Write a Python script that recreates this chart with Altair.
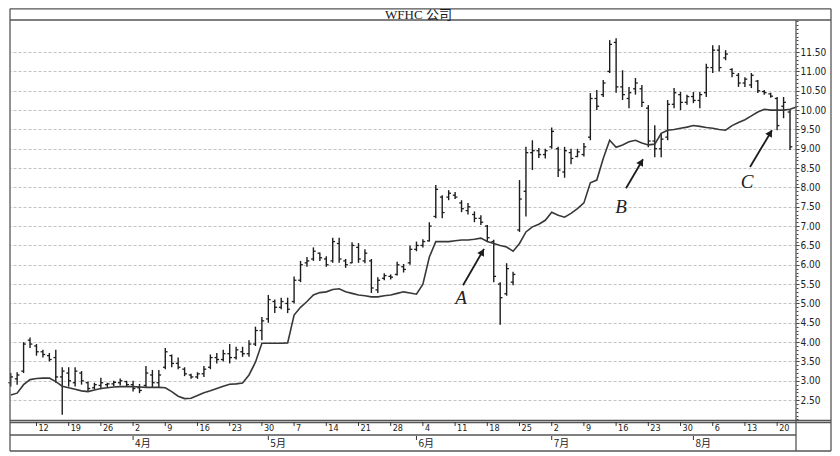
import altair as alt
import pandas as pd

# ---------------- data (trading-day slots; slot 0 = Monday 12 March) ----------------
slots = list(range(-4, 118))
highs = [3.20, 3.22, 4.00, 4.12,
         3.95, 3.80, 3.72, 3.80, 3.35,
         3.35, 3.35, 3.25, 2.98, 2.95,
         3.08, 2.95, 3.00, 3.06, 3.00,
         3.00, 2.92, 3.38, 3.28, 3.28,
         3.85, 3.68, 3.60, 3.35, 3.18,
         3.22, 3.38, 3.68, 3.72, 3.80,
         3.95, 3.88, 3.88, 4.05, 4.40,
         4.65, 5.22, 5.10, 5.15, 5.15,
         5.70, 6.10, 6.20, 6.45, 6.32,
         6.22, 6.70, 6.70, 6.15, 6.58,
         6.56, 6.40, 6.15, 5.68, 5.78,
         5.75, 6.08, 6.02, 6.50, 6.60,
         6.66, 7.10, 8.06, 7.80, 7.93,
         7.88, 7.67, 7.60, 7.38, 7.28,
         7.03, 6.65, 5.55, 6.04, 5.82,
         8.19, 9.05, 9.22, 9.02, 9.00,
         9.55, 9.05, 9.05, 9.00, 9.00,
         9.15, 10.44, 10.52, 10.78, 11.81,
         11.86, 11.03, 10.60, 10.83, 10.65,
         10.13, 9.61, 9.40, 10.26, 10.57,
         10.47, 10.40, 10.47, 10.47, 11.20,
         11.68, 11.68, 11.55, 11.08, 10.96,
         10.85, 10.96, 10.78, 10.52, 10.45,
         10.34, 10.34, 10.00]
lows = [2.85, 2.90, 3.20, 3.85,
        3.65, 3.60, 3.50, 2.95, 2.12,
        2.85, 2.85, 2.90, 2.72, 2.78,
        2.78, 2.84, 2.86, 2.88, 2.86,
        2.72, 2.68, 2.84, 2.84, 2.84,
        3.30, 3.35, 3.30, 3.12, 3.05,
        3.05, 3.10, 3.30, 3.45, 3.50,
        3.45, 3.55, 3.62, 3.62, 3.90,
        4.05, 4.50, 4.75, 4.85, 4.75,
        5.00, 5.55, 5.95, 6.10, 6.10,
        5.95, 6.05, 6.05, 5.92, 6.04,
        6.05, 6.04, 5.27, 5.27, 5.60,
        5.62, 5.72, 5.80, 6.00, 6.35,
        6.45, 6.60, 7.20, 7.20, 7.67,
        7.70, 7.36, 7.30, 7.10, 7.03,
        6.59, 5.55, 4.45, 5.20, 5.47,
        6.85, 7.25, 8.45, 8.76, 8.75,
        9.00, 8.27, 8.25, 8.60, 8.78,
        8.80, 9.22, 10.00, 10.34, 10.96,
        10.45, 10.26, 10.05, 10.40, 10.08,
        9.04, 8.78, 8.78, 9.22, 10.05,
        10.00, 10.14, 10.18, 10.05, 10.34,
        10.96, 11.00, 11.29, 10.85, 10.60,
        10.60, 10.57, 10.44, 10.40, 10.32,
        9.48, 9.79, 8.97]
opens = [2.95, 3.05, 3.25, 4.05,
         3.90, 3.75, 3.65, 3.60, 3.10,
         3.20, 2.95, 3.20, 2.95, 2.82,
         2.88, 2.90, 2.92, 2.95, 2.98,
         2.90, 2.82, 2.88, 3.15, 2.95,
         3.35, 3.65, 3.45, 3.30, 3.15,
         3.10, 3.18, 3.35, 3.60, 3.55,
         3.70, 3.60, 3.75, 3.70, 3.95,
         4.30, 4.60, 5.05, 4.90, 5.00,
         5.05, 5.60, 6.05, 6.15, 6.30,
         6.15, 6.10, 6.55, 6.10, 6.05,
         6.45, 6.10, 6.10, 5.35, 5.65,
         5.70, 5.75, 5.95, 6.05, 6.40,
         6.50, 6.62, 7.25, 7.75, 7.75,
         7.80, 7.60, 7.40, 7.30, 7.20,
         7.00, 6.60, 5.50, 5.25, 5.55,
         6.90, 7.90, 8.90, 8.95, 8.85,
         9.05, 9.00, 8.40, 8.90, 8.80,
         8.85, 9.30, 10.30, 10.40, 11.00,
         11.75, 10.60, 10.30, 10.55, 10.55,
         10.05, 9.20, 9.00, 9.30, 10.15,
         10.40, 10.20, 10.35, 10.25, 10.45,
         11.10, 11.55, 11.35, 11.05, 10.90,
         10.70, 10.65, 10.75, 10.48, 10.42,
         10.30, 10.10, 9.95]
closes = [3.10, 3.15, 3.95, 3.95,
          3.75, 3.68, 3.55, 3.10, 3.25,
          3.00, 3.25, 3.00, 2.80, 2.90,
          2.95, 2.92, 2.96, 3.00, 2.90,
          2.80, 2.75, 3.20, 2.95, 3.15,
          3.75, 3.45, 3.35, 3.18, 3.10,
          3.18, 3.30, 3.60, 3.55, 3.70,
          3.60, 3.80, 3.70, 3.95, 4.30,
          4.55, 5.10, 4.90, 5.05, 4.85,
          5.60, 6.00, 6.10, 6.35, 6.18,
          6.00, 6.60, 6.15, 6.00, 6.50,
          6.15, 6.30, 5.40, 5.60, 5.72,
          5.68, 6.00, 5.88, 6.40, 6.50,
          6.60, 7.00, 7.95, 7.35, 7.85,
          7.75, 7.45, 7.50, 7.20, 7.10,
          6.70, 5.70, 5.15, 5.90, 5.75,
          7.70, 8.90, 8.95, 8.85, 8.95,
          9.45, 8.45, 8.95, 8.75, 8.92,
          9.05, 10.30, 10.10, 10.70, 11.70,
          10.60, 10.40, 10.45, 10.70, 10.20,
          9.20, 9.00, 9.25, 10.15, 10.45,
          10.20, 10.35, 10.25, 10.40, 11.10,
          11.55, 11.10, 11.45, 10.95, 10.70,
          10.80, 10.90, 10.50, 10.45, 10.36,
          9.60, 10.20, 9.05]

ma_slots = list(range(-4, 119))
ma_values = [2.63, 2.68, 2.90, 3.03,
             3.06, 3.07, 3.07, 2.98, 2.86,
             2.82, 2.78, 2.74, 2.72, 2.76,
             2.80, 2.82, 2.84, 2.85, 2.85,
             2.85, 2.84, 2.83, 2.83, 2.83,
             2.82, 2.72, 2.60, 2.54, 2.55,
             2.62, 2.69, 2.74, 2.80, 2.86,
             2.91, 2.92, 2.94, 3.15, 3.48,
             3.97, 3.97, 3.97, 3.97, 3.98,
             4.70, 4.90, 5.05, 5.22, 5.28,
             5.30, 5.36, 5.38, 5.30, 5.26,
             5.22, 5.20, 5.17, 5.17, 5.20,
             5.22, 5.26, 5.30, 5.27, 5.24,
             5.50, 6.20, 6.60, 6.60, 6.60,
             6.62, 6.64, 6.64, 6.66, 6.69,
             6.60, 6.55, 6.50, 6.46, 6.35,
             6.55, 6.85, 6.98, 7.05, 7.15,
             7.36, 7.28, 7.23, 7.33, 7.45,
             7.60, 8.12, 8.19, 8.75, 9.22,
             9.04, 9.10, 9.18, 9.22, 9.15,
             9.10, 9.12, 9.40, 9.48, 9.50,
             9.53, 9.56, 9.60, 9.58, 9.55,
             9.53, 9.50, 9.48, 9.60, 9.68,
             9.75, 9.85, 9.95, 10.02, 10.00,
             10.00, 10.00, 10.02, 10.08]

week_slots = [0, 5, 10, 15, 20, 25, 30, 35, 40, 45, 50, 55,
              60, 65, 70, 75, 80, 85, 90, 95, 100, 105, 110, 115]
week_labels = ["12", "19", "26", "2", "9", "16", "23", "30", "7", "14", "21", "28",
               "4", "11", "18", "25", "2", "9", "16", "23", "30", "6", "13", "20"]
month_slots = [15, 36, 59, 80, 102]
month_labels = ["4月", "5月", "6月", "7月", "8月"]
price_ticks = [2.5, 3.0, 3.5, 4.0, 4.5, 5.0, 5.5, 6.0, 6.5, 7.0, 7.5, 8.0,
               8.5, 9.0, 9.5, 10.0, 10.5, 11.0, 11.5]
minor_ticks = [round(2.0 + 0.1 * k, 1) for k in range(0, 104)]

ann_letters = ["A", "B", "C"]
ann_letter_slot = [65.92, 90.75, 110.33]
ann_letter_price = [5.14, 7.49, 8.14]
ann_tail_slot = [66.23, 91.54, 110.79]
ann_tail_price = [5.47, 7.98, 8.53]
ann_tip_slot = [69.49, 94.18, 114.20]
ann_tip_price = [6.41, 8.73, 9.48]
ann_head_slot = [69.22, 93.91, 113.94]
ann_head_price = [6.33, 8.66, 9.41]
ann_angle = [30, 30, 31]

title_text = "WFHC 公司"

# ---------------- tables ----------------
df = pd.DataFrame({"slot": slots, "high": highs, "low": lows, "open": opens, "close": closes})
ma_df = pd.DataFrame({"slot": ma_slots, "ma": ma_values})
week_df = pd.DataFrame({"slot": week_slots, "label": week_labels})
month_df = pd.DataFrame({"slot": month_slots, "label": month_labels})
ann_df = pd.DataFrame({
    "letter": ann_letters, "ls": ann_letter_slot, "lp": ann_letter_price,
    "ts": ann_tail_slot, "tp": ann_tail_price, "hs": ann_tip_slot, "hp": ann_tip_price,
    "cs": ann_head_slot, "cp": ann_head_price, "angle": ann_angle,
})
one = pd.DataFrame({"k": [0]})

INK = "#1c1c1c"
FRAME = "#555555"
GRID = "#b4b4b4"
AXFONT = "DejaVu Sans Condensed, DejaVu Sans, sans-serif"

W, H = 786, 401
xs = alt.Scale(domain=[-4.11, 117.93], nice=False, zero=False)
ys = alt.Scale(domain=[1.96, 12.33], nice=False, zero=False)

xaxis = alt.Axis(values=week_slots, title=None, orient="bottom",
                 grid=True, gridDash=[3, 2], gridColor=GRID, gridWidth=0.8,
                 domain=False, ticks=False, labels=False)
yaxis = alt.Axis(values=price_ticks, format=".2f", title=None, orient="right",
                 grid=True, gridDash=[3, 2], gridColor=GRID, gridWidth=0.8,
                 domain=False, tickSize=3, tickColor="#333333", tickWidth=1,
                 labelPadding=1, labelFont=AXFONT, labelFontSize=10, labelColor="#222222",
                 labelOverlap=False, labelFlush=False)
minor_axis = alt.Axis(values=minor_ticks, title=None, orient="right", grid=False,
                      domain=False, labels=False, tickSize=2, tickColor="#444444", tickWidth=1)

hl = alt.Chart(df).mark_rule(color=INK, strokeWidth=1.4).encode(
    x=alt.X("slot:Q", scale=xs, axis=xaxis),
    y=alt.Y("low:Q", scale=ys, axis=yaxis),
    y2="high:Q",
)
opn = alt.Chart(df).transform_calculate(xl="datum.slot - 0.36").mark_rule(
    color=INK, strokeWidth=1.3).encode(
    x=alt.X("xl:Q", scale=xs, axis=None), x2="slot:Q",
    y=alt.Y("open:Q", scale=ys, axis=None),
)
cls = alt.Chart(df).transform_calculate(xr="datum.slot + 0.36").mark_rule(
    color=INK, strokeWidth=1.3).encode(
    x=alt.X("slot:Q", scale=xs, axis=None), x2="xr:Q",
    y=alt.Y("close:Q", scale=ys, axis=None),
)
ma_line = alt.Chart(ma_df).mark_line(color="#383838", strokeWidth=1.6).encode(
    x=alt.X("slot:Q", scale=xs, axis=None),
    y=alt.Y("ma:Q", scale=ys, axis=minor_axis),
)


def seg(x1, x2, y1, y2, w=1.3):
    enc = {"x": alt.value(x1), "y": alt.value(y1)}
    if x2 != x1:
        enc["x2"] = alt.value(x2)
    if y2 != y1:
        enc["y2"] = alt.value(y2)
    return alt.Chart(one).mark_rule(color=FRAME, strokeWidth=w).encode(**enc)


TOP = -11.2
frames = [
    seg(0, 821, TOP, TOP),          # outer top
    seg(0, 821, 431, 431),          # outer bottom
    seg(0, 0, TOP, 431),            # outer left
    seg(821, 821, TOP, 431),        # outer right
    seg(0, 821, 0, 0),              # title bar bottom
    seg(786, 786, 0, 431),          # price axis line
    seg(0, 821, 400.5, 400.5),      # plot bottom (double)
    seg(0, 821, 402.5, 402.5),
    seg(0, 786, 415, 415),          # day row bottom
]

title = alt.Chart(one).mark_text(
    font="Liberation Serif, Noto Sans CJK SC, serif", fontSize=13, color="#1a1a1a",
    align="center", baseline="middle",
).encode(x=alt.value(408.5), y=alt.value(-5.3), text=alt.value(title_text))

week_ticks = alt.Chart(week_df).mark_rule(color="#333333", strokeWidth=1).encode(
    x=alt.X("slot:Q", scale=xs, axis=None), y=alt.value(402), y2=alt.value(406),
)
week_text = alt.Chart(week_df).mark_text(
    font=AXFONT, fontSize=9, color="#222222", align="left", baseline="middle", dx=2,
).encode(x=alt.X("slot:Q", scale=xs, axis=None), y=alt.value(408), text="label:N")

month_ticks = alt.Chart(month_df).mark_rule(color="#333333", strokeWidth=1).encode(
    x=alt.X("slot:Q", scale=xs, axis=None), y=alt.value(416), y2=alt.value(420),
)
month_text = alt.Chart(month_df).mark_text(
    font="Noto Sans CJK SC, sans-serif", fontSize=10, color="#222222",
    align="left", baseline="middle", dx=2,
).encode(x=alt.X("slot:Q", scale=xs, axis=None), y=alt.value(423.5), text="label:N")

arrow_lines = alt.Chart(ann_df).mark_rule(color=INK, strokeWidth=1.8).encode(
    x=alt.X("ts:Q", scale=xs, axis=None), x2="hs:Q",
    y=alt.Y("tp:Q", scale=ys, axis=None), y2="hp:Q",
)
arrow_heads = alt.Chart(ann_df).mark_point(
    shape="triangle-up", filled=True, size=60, color=INK, opacity=1,
).encode(
    x=alt.X("cs:Q", scale=xs, axis=None),
    y=alt.Y("cp:Q", scale=ys, axis=None),
    angle=alt.Angle("angle:Q", scale=None),
)
letters = alt.Chart(ann_df).mark_text(
    font="Liberation Serif, serif", fontStyle="italic", fontSize=19, color="#222222",
    align="center", baseline="middle",
).encode(
    x=alt.X("ls:Q", scale=xs, axis=None),
    y=alt.Y("lp:Q", scale=ys, axis=None),
    text="letter:N",
)

chart = alt.layer(
    hl, opn, cls, ma_line, *frames, title, week_ticks, week_text,
    month_ticks, month_text, arrow_lines, arrow_heads, letters,
).resolve_axis(y="independent").properties(
    width=W, height=H,
    padding={"left": 2, "top": 12, "right": 36, "bottom": 33},
    autosize=alt.AutoSizeParams(type="none"),
    background="white",
).configure_view(stroke=None)

chart.save("out.html", embed_options={"renderer": "svg", "actions": False})
